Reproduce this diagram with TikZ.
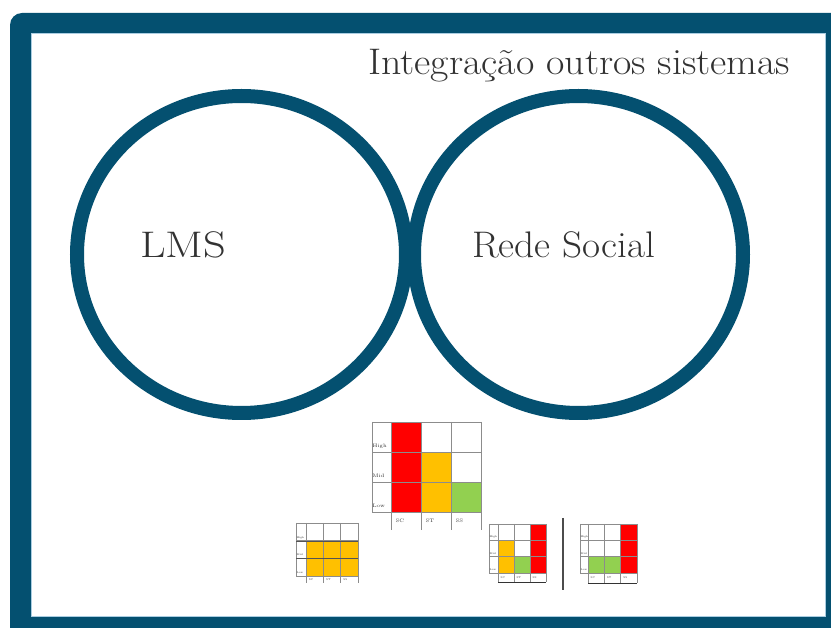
\documentclass[tikz,border=0pt]{standalone}
\usepackage{graphicx}
\definecolor{frameblue}{RGB}{4,80,112}
\definecolor{edgeblue}{RGB}{170,205,225}
\definecolor{txt}{RGB}{50,50,50}
\definecolor{cred}{RGB}{255,0,0}
\definecolor{cyel}{RGB}{255,192,0}
\definecolor{cgrn}{RGB}{146,208,80}
\definecolor{gridc}{RGB}{140,140,140}
\tikzset{
  gridline/.style={draw=gridc, line width=0.7pt},
  ring/.style={draw=frameblue, line width=14pt},
  bigtext/.style={text=txt, font=\fontsize{37}{40}\selectfont, inner sep=0pt},
  ticklabel/.style={text=txt, inner sep=0pt}
}
% #1 label column left, #2 grid left, #3 cell width, #4 top, #5 cell height, #6 bottom of label row, #7 font size
\newcommand{\chartgrid}[7]{%
  \foreach \i in {0,...,3} \draw[gridline] ({#2+\i*#3},#4) -- ({#2+\i*#3},#6);
  \foreach \j in {0,...,3} \draw[gridline] (#1,{#4+\j*#5}) -- ({#2+3*#3},{#4+\j*#5});
  \draw[gridline] (#1,#4) -- (#1,{#4+3*#5});
  \foreach \t [count=\k from 0] in {High,Mid,Low}
    \node[ticklabel, font=\fontsize{#7}{#7}\selectfont, anchor=base west] at ({#1+0.5},{#4+\k*#5+0.85*#5}) {\t};
  \foreach \t [count=\k from 0] in {SC,ST,SS}
    \node[ticklabel, font=\fontsize{#7}{#7}\selectfont, anchor=base west] at ({#2+\k*#3+0.15*#3},{#4+3*#5+0.6*(#6-#4-3*#5)}) {\t};
}
\begin{document}
\begin{tikzpicture}[x=1pt,y=-1pt]
\useasboundingbox (0,0) rectangle (831,628);
\clip (0,0) rectangle (831,628);
% frame
\fill[frameblue] (10,640) -- (10,25) arc[start angle=180, end angle=270, radius=12] -- (840,13) -- (840,640) -- cycle;
\fill[white] (31,33) rectangle (825,616);
\draw[edgeblue, line width=0.8pt] (31,33) rectangle (825,616);
% title
\node[bigtext, anchor=base west] (title) at (368,75) {\resizebox{422pt}{\height}{Integração outros sistemas}};
% circles
\draw[ring] (241.5,254.5) ellipse [x radius=164.5, y radius=158.5];
\draw[ring] (578.5,254.5) ellipse [x radius=164.5, y radius=158.5];
\node[bigtext, anchor=base west] (lms) at (140,258) {\resizebox{86pt}{\height}{LMS}};
\node[bigtext, anchor=base west] (rede) at (472,258) {\resizebox{183pt}{\height}{Rede Social}};
% big chart
\fill[cred] (391,422) rectangle (421,512);
\fill[cyel] (421,452) rectangle (451,512);
\fill[cgrn] (451,482) rectangle (481,512);
\chartgrid{372}{391}{30}{422}{30}{530}{5}
% small chart 1
\fill[cyel] (306,541) rectangle (358,576);
\chartgrid{296}{306}{17.33}{523}{17.67}{583}{2.6}
\draw[gridc!60!black, line width=0.9pt] (296,541) -- (358,541);
\draw[gridc!60!black, line width=0.9pt] (296,558) -- (358,558);
% small chart 2
\fill[cyel] (498,541) rectangle (515,573);
\fill[cgrn] (515,557) rectangle (531,573);
\fill[cred] (531,524) rectangle (546,573);
\chartgrid{489}{498}{16}{524}{16.33}{582}{2.6}
\draw[black!80, line width=0.9pt] (498,582) -- (546,582);
% separator
\draw[black!70, line width=1.2pt] (563,518) -- (563,590);
% small chart 3
\fill[cgrn] (588,557) rectangle (621,573);
\fill[cred] (621,524) rectangle (637,573);
\chartgrid{580}{588}{16.33}{524}{16.33}{583}{2.6}
\draw[black!80, line width=0.9pt] (588,583) -- (637,583);
\end{tikzpicture}
\end{document}
